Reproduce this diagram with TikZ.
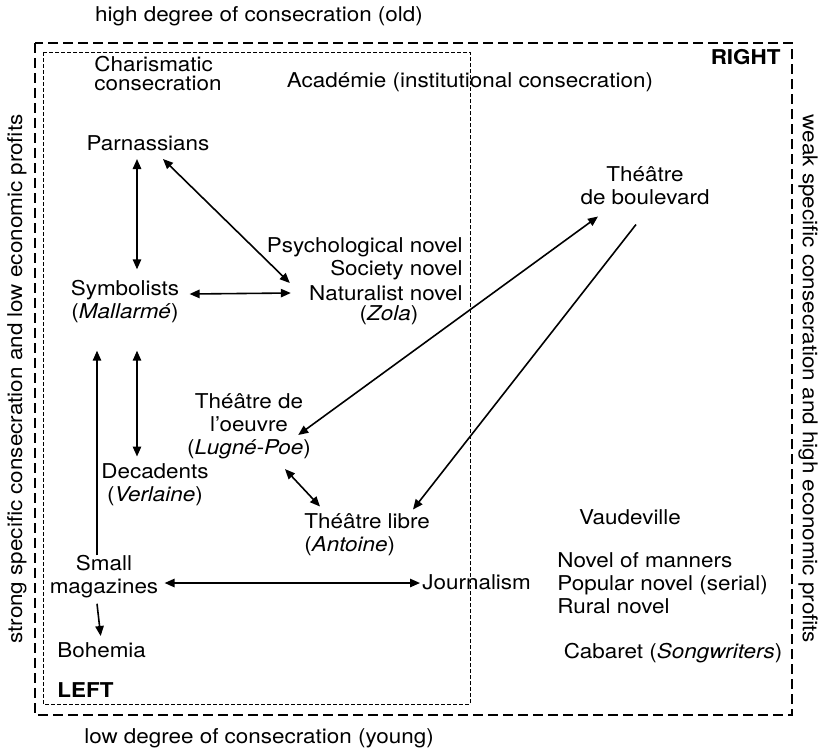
\documentclass[tikz,border=0pt]{standalone}
\usepackage{fontspec}
\setmainfont{TeX Gyre Heros}[FakeStretch=1.1]
\usetikzlibrary{arrows.meta,calc}
\begin{document}
\begin{tikzpicture}[x=0.5pt,y=-0.5pt,
  every node/.style={inner sep=1pt, font=\fontsize{10.2}{11.5}\selectfont},
  biarrow/.style={{Triangle[length=5pt,width=4.2pt]}-{Triangle[length=5pt,width=4.2pt]}, line width=0.8pt},
  onearrow/.style={-{Triangle[length=5pt,width=4.2pt]}, line width=0.8pt},
  outerbox/.style={line width=1pt, dash pattern=on 5pt off 2.5pt},
  innerbox/.style={line width=0.5pt, dash pattern=on 2pt off 1pt}]
\useasboundingbox (0,0) rectangle (819,752);
\fill[white] (0,0) rectangle (819,752);
% frames
\draw[outerbox] (35,43) rectangle (792,715);
\draw[innerbox] (43,52) rectangle (470,704);
% axis labels
\node (top) at (259,16) {high degree of consecration (old)};
\node (bottom) at (259,738) {low degree of consecration (young)};
\node[rotate=90] (leftlab) at (17,379) {strong specific consecration and low economic profits};
\node[rotate=-90] (rightlab) at (808,379) {weak specific consecration and high economic profits};
\node[anchor=east] (right) at (783,57) {\bfseries RIGHT};
\node[anchor=west] (left) at (55,690) {\bfseries LEFT};
% contents
\node[align=left] (charis) at (158,74) {Charismatic\\[-2pt]consecration};
\node (acad) at (470,82) {Académie (institutional consecration)};
\node (parn) at (148,143) {Parnassians};
\node[align=center] (boul) at (645,186) {Théâtre\\de boulevard};
\node[anchor=east] (psych) at (465,247) {Psychological novel};
\node[anchor=east] (society) at (465,270) {Society novel};
\node[anchor=east] (natur) at (465,293) {Naturalist novel};
\node (zola) at (389,315) {(\textit{Zola})};
\node[align=center] (symb) at (125,302) {Symbolists\\(\textit{Mallarmé})};
\node[align=center] (oeuvre) at (249,426) {Théâtre de\\l’oeuvre\\(\textit{Lugné-Poe})};
\node[align=center] (dec) at (155,485) {Decadents\\(\textit{Verlaine})};
\node[align=left,anchor=west] (libre) at (302,535) {Théâtre libre\\(\textit{Antoine})};
\node[align=center] (small) at (104,577) {Small\\magazines};
\node[anchor=west] (bohemia) at (55,650) {Bohemia};
\node[anchor=west] (journ) at (420,582) {Journalism};
\node (vaud) at (630,517) {Vaudeville};
\node[align=left,anchor=west] (manners) at (555,583) {Novel of manners\\Popular novel (serial)\\Rural novel};
\node (cabaret) at (673,653) {Cabaret (\textit{Songwriters})};
% connectors
\draw[biarrow] ([xshift=-5.5pt,yshift=-3pt]parn.south) -- ([xshift=6pt,yshift=4.5pt]symb.north);
\draw[biarrow] ([xshift=7.5pt,yshift=-3pt]parn.south) -- ([xshift=-8.5pt]natur.north west);
\draw[biarrow] ([xshift=4pt,yshift=4pt]symb.east) -- ([xshift=-8pt]natur.west);
\draw[biarrow] ([xshift=6pt,yshift=-12.5pt]symb.south) -- ([xshift=-9pt,yshift=2.5pt]dec.north);
\draw[onearrow] ([xshift=-3.5pt,yshift=-1pt]small.north) -- ([xshift=-14pt,yshift=-12.5pt]symb.south);
\draw[onearrow] ([xshift=-3.5pt,yshift=-1.5pt]small.south) -- ([xshift=-0.5pt,yshift=2pt]bohemia.north);
\draw[biarrow] ([xshift=2pt,yshift=-3pt]small.east) -- ([yshift=-0.5pt]journ.west);
\draw[biarrow] ([xshift=-7.5pt,yshift=-4.5pt]oeuvre.east) -- ([xshift=-23.5pt,yshift=-4.5pt]boul.south);
\draw[onearrow] ([xshift=-4.5pt,yshift=-8.5pt]boul.south) -- ([xshift=55.5pt,yshift=1pt]libre.north west);
\draw[biarrow] ([xshift=18pt,yshift=-4pt]oeuvre.south) -- ([xshift=9pt,yshift=2.5pt]libre.north west);
\end{tikzpicture}
\end{document}
